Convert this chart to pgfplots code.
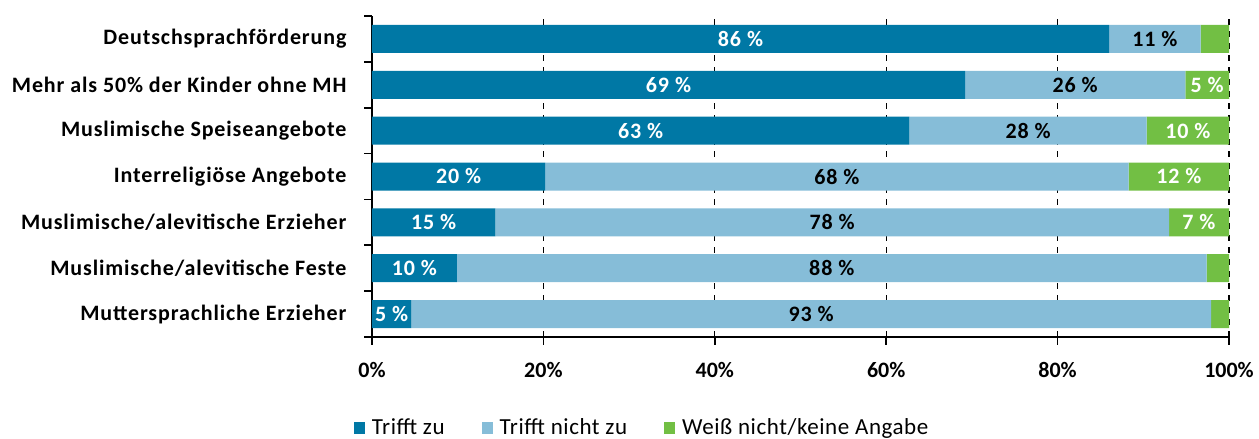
\documentclass[border=0pt]{standalone}
\usepackage{fontspec}
\setmainfont{Carlito}
\newfontfamily\trk[LetterSpace=4]{Carlito}
\newfontfamily\trkl[LetterSpace=2.5]{Carlito}
\usepackage{pgfplots}
\usepackage{pgfplotstable}
\pgfplotsset{compat=1.18}
\definecolor{dblue}{RGB}{0,120,165}
\definecolor{lblue}{RGB}{134,189,216}
\definecolor{lgreen}{RGB}{114,191,68}
\pgfplotstableread{
y a b c la lb lc
6 86.0 10.7 3.3 {86~\%} {11~\%} {}
5 69.2 25.7 5.1 {69~\%} {26~\%} {5~\%}
4 62.7 27.7 9.6 {63~\%} {28~\%} {10~\%}
3 20.2 68.1 11.7 {20~\%} {68~\%} {12~\%}
2 14.4 78.6 7.0 {15~\%} {78~\%} {7~\%}
1 9.9 87.5 2.6 {10~\%} {88~\%} {}
0 4.6 93.3 2.1 {5~\%} {93~\%} {}
}\data
\newcommand{\lblfont}{\trk\fontsize{22}{26}\selectfont\bfseries}
\newcommand{\tickfont}{\fontsize{22}{26}\selectfont\bfseries}
\begin{document}
\begin{tikzpicture}[x=1pt,y=1pt]
\useasboundingbox (0,0) rectangle (1259,439);
\begin{axis}[
  at={(372pt,102pt)}, anchor=south west,
  scale only axis, width=857pt, height=321pt,
  xbar stacked, bar width=28pt,
  xmin=0, xmax=100, ymin=-0.5, ymax=6.5,
  axis x line*=bottom, axis y line*=left,
  axis line style={line width=1.6pt, black, -},
  tick align=outside,
  major tick length=8pt, minor tick length=8pt,
  every tick/.style={black, line width=1.6pt},
  xtick={0,20,...,100}, xticklabels={0\%,20\%,40\%,60\%,80\%,100\%},
  xticklabel style={font=\tickfont, yshift=-14pt},
  ytick={0,...,6},
  yticklabels={Muttersprachliche Erzieher, Muslimische/alevitische Feste, Muslimische/alevitische Erzieher, Interreligiöse Angebote, Muslimische Speiseangebote, Mehr als 50\% der Kinder ohne MH, Deutschsprachförderung},
  yticklabel style={font=\lblfont, xshift=-14pt},
  major y tick style={draw=none},
  minor ytick={-0.5,0.5,...,6.5},
  xmajorgrids,
  major x grid style={black, dash pattern=on 6pt off 6pt, line width=1.3pt},
  nodes near coords,
  point meta=explicit symbolic,
  every node near coord/.append style={font=\lblfont, anchor=center},
  legend style={at={(0.314,-0.282)}, anchor=center, draw=none, legend columns=3,
    font=\trkl\fontsize{23}{27}\selectfont,
    nodes={inner xsep=0pt},
    /tikz/every odd column/.append style={column sep=7pt},
    /tikz/every even column/.append style={column sep=37pt}},
  legend image code/.code={\fill[#1] (0pt,-6pt) rectangle (11pt,6pt);},
]
\addplot[fill=dblue, draw=none, every node near coord/.append style={white}] table[x=a, y=y, meta=la] {\data};
\addplot[fill=lblue, draw=none, every node near coord/.append style={black}] table[x=b, y=y, meta=lb] {\data};
\addplot[fill=lgreen, draw=none, every node near coord/.append style={white}] table[x=c, y=y, meta=lc] {\data};
\legend{Trifft zu, Trifft nicht zu, Weiß nicht/keine Angabe}
\end{axis}
\end{tikzpicture}
\end{document}
